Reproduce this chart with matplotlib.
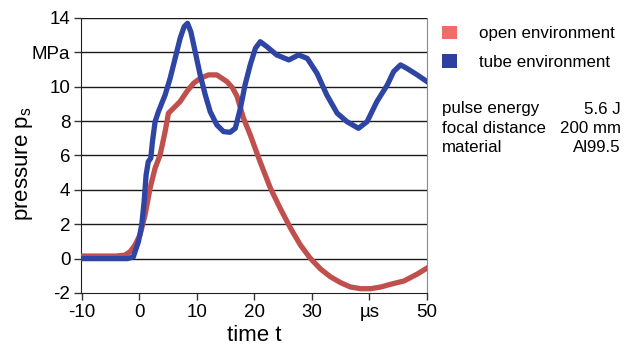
import matplotlib
matplotlib.use("Agg")
import matplotlib.pyplot as plt
from matplotlib.patches import Patch

plt.rcParams["font.family"] = ["Liberation Sans", "DejaVu Sans"]

# time in microseconds, pressure in MPa
t_open = [-10, -8, -6, -4, -2.5, -1.56, -0.7, 0.17, 1.04, 1.91, 2.78, 3.65, 4.52,
          5.1, 5.97, 7.13, 8.29, 9.45, 10.6, 12.06, 13.5, 15.25, 16.2, 17.0, 18.1,
          19.3, 21.0, 22.8, 24.5, 26.3, 28.0, 29.7, 31.5, 33.2, 35.0, 36.7, 38.5,
          40.2, 42.0, 43.6, 46.0, 48.3, 50]
p_open = [0.15, 0.15, 0.15, 0.15, 0.2, 0.4, 0.8, 1.38, 2.55, 4.1, 5.26, 6.03, 7.39,
          8.46, 8.75, 9.14, 9.72, 10.2, 10.49, 10.69, 10.69, 10.3, 9.95, 9.45, 8.2,
          7.2, 5.65, 4.1, 2.93, 1.77, 0.8, 0.03, -0.6, -1.05, -1.4, -1.65, -1.75,
          -1.75, -1.65, -1.5, -1.3, -0.9, -0.55]

t_tube = [-10, -8, -6, -4, -2, -1.0, -0.1, 0.46, 0.87, 1.22, 1.6, 2.03, 2.32, 2.78,
          3.36, 3.94, 4.52, 5.39, 6.26, 7.13, 7.83, 8.41, 8.99, 9.74, 10.6, 11.5,
          12.35, 13.5, 14.67, 15.8, 16.7, 17.6, 18.4, 19.3, 20.2, 21.04, 22.2, 23.9,
          26.0, 27.7, 29.2, 30.9, 32.6, 34.4, 36.1, 38.1, 39.6, 41.3, 43.1, 44.2,
          45.4, 46.5, 48.3, 50]
p_tube = [0.0, 0.0, 0.0, 0.0, 0.0, 0.1, 1.0, 1.96, 3.3, 4.87, 5.65, 5.84, 6.8, 7.97,
          8.55, 9.04, 9.52, 10.49, 11.65, 12.82, 13.5, 13.69, 13.2, 12.04, 10.7, 9.52,
          8.55, 7.78, 7.39, 7.35, 7.58, 8.75, 10.1, 11.27, 12.24, 12.62, 12.33, 11.85,
          11.56, 11.85, 11.65, 10.78, 9.52, 8.46, 7.97, 7.58, 7.97, 9.14, 10.1, 10.88,
          11.27, 11.07, 10.69, 10.3]

series_labels = ["open environment", "tube environment"]
line_colors = ["#c0504d", "#2e45a3"]
legend_colors = ["#f26b6b", "#2e3f9f"]

param_names = ["pulse energy", "focal distance", "material"]
param_values = ["5.6 J", "200 mm", "Al99.5"]

y_ticks = [-2, 0, 2, 4, 6, 8, 10, 12, 14]
y_ticklabels = ["-2", "0", "2", "4", "6", "8", "10", "MPa", "14"]
x_ticks = [-10, 0, 10, 20, 30, 40, 50]
x_ticklabels = ["-10", "0", "10", "20", "30", "µs", "50"]

fig = plt.figure(figsize=(6.25, 3.46), dpi=100)
ax = fig.add_axes([0.1304, 0.1532, 0.5528, 0.7948])

for y in y_ticks[1:]:
    ax.axhline(y, color="#1a1a1a", lw=1.0, zorder=1)

ax.plot(t_open, p_open, color=line_colors[0], lw=3.8, solid_joinstyle="round", zorder=3)
ax.plot(t_tube, p_tube, color=line_colors[1], lw=3.8, solid_joinstyle="round", zorder=4)

ax.set_xlim(-10, 50)
ax.set_ylim(-2, 14)
ax.set_xticks(x_ticks)
ax.set_xticklabels(x_ticklabels)
ax.set_yticks(y_ticks)
ax.set_yticklabels(y_ticklabels)
ax.tick_params(labelsize=13.5, length=5, width=1, color="#333333", pad=3)

ax.spines["top"].set_visible(False)
ax.spines["right"].set_color("#8a8a8a")
ax.spines["left"].set_color("#222222")
ax.spines["bottom"].set_color("#222222")

ax.set_xlabel("time t", fontsize=16, labelpad=3)
ax.set_ylabel("pressure p$_\\mathregular{s}$", fontsize=16)
ax.yaxis.set_label_coords(-0.135, 0.47)

handles = [Patch(facecolor=c, edgecolor="none") for c in legend_colors]
fig.legend(handles, series_labels, loc="upper left", bbox_to_anchor=(0.697, 0.945),
           frameon=False, fontsize=12.2, handlelength=0.85, handleheight=0.85,
           handletextpad=1.3, labelspacing=0.75, borderaxespad=0)

for i, (name, val) in enumerate(zip(param_names, param_values)):
    y = 1 - (109 + 19.5 * i) / 346
    fig.text(442 / 625, y, name, fontsize=12.2, va="center", ha="left")
    fig.text(621 / 625, y, val, fontsize=12.2, va="center", ha="right")

fig.savefig("out.png", dpi=100)
